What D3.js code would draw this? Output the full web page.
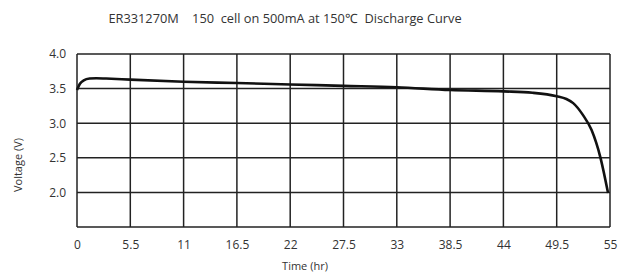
<!DOCTYPE html>
<html><head><meta charset="utf-8">
<script src="https://cdn.jsdelivr.net/npm/d3@7"></script>
<style>body{margin:0;background:#fff}svg text{font-family:"Open Sans",sans-serif;fill:#333}</style>
</head><body><svg id="c" width="619" height="275"></svg>
<script>
const timeHr = [0, 0.3, 0.7, 1.3, 2, 3, 5.5, 11, 16.5, 22, 27.5, 33, 38.5, 44, 47, 49.5, 50.5, 51.2, 52.2, 53.1, 54, 54.8];
const voltage = [3.48, 3.57, 3.62, 3.645, 3.65, 3.645, 3.63, 3.60, 3.58, 3.56, 3.54, 3.52, 3.48, 3.46, 3.44, 3.39, 3.35, 3.29, 3.12, 2.90, 2.51, 1.99];
const xTicks = [0, 5.5, 11, 16.5, 22, 27.5, 33, 38.5, 44, 49.5, 55];
const yTicks = [2.0, 2.5, 3.0, 3.5, 4.0];
const yGrid = [1.5, 2.0, 2.5, 3.0, 3.5, 4.0];

const svg = d3.select("#c");
const L = 77, R = 610, T = 54, B = 227;
const x = d3.scaleLinear().domain([0, 55]).range([L, R]);
const y = d3.scaleLinear().domain([1.5, 4.0]).range([B, T]);

const g = svg.append("g");
g.selectAll("line.v").data(xTicks).join("line")
  .attr("x1", d => x(d)).attr("x2", d => x(d)).attr("y1", T).attr("y2", B)
  .attr("stroke", "#222").attr("stroke-width", 1.5);
g.selectAll("line.h").data(yGrid).join("line")
  .attr("x1", L).attr("x2", R).attr("y1", d => y(d)).attr("y2", d => y(d))
  .attr("stroke", "#222").attr("stroke-width", 1.5);

const xAxis = svg.append("g").attr("transform", `translate(0,${B})`)
  .call(d3.axisBottom(x).tickValues(xTicks).tickSize(0).tickPadding(13).tickFormat(d => String(d)));
xAxis.select(".domain").remove();
xAxis.selectAll("text").attr("font-size", 12).style("fill", "#333");

const yAxis = svg.append("g").attr("transform", `translate(${L},0)`)
  .call(d3.axisLeft(y).tickValues(yTicks).tickSize(0).tickPadding(11).tickFormat(d3.format(".1f")));
yAxis.select(".domain").remove();
yAxis.selectAll("text").attr("font-size", 12).style("fill", "#333");

const pts = timeHr.map((t, i) => [t, voltage[i]]);
svg.append("path").datum(pts)
  .attr("d", d3.line().x(d => x(d[0])).y(d => y(d[1])).curve(d3.curveMonotoneX))
  .attr("fill", "none").attr("stroke", "#111").attr("stroke-width", 2.6);

svg.append("text").attr("x", 285).attr("y", 23).attr("text-anchor", "middle")
  .attr("font-size", 12.8).attr("xml:space", "preserve")
  .text("ER331270M    150  cell on 500mA at 150℃  Discharge Curve");
svg.append("text").attr("x", 305).attr("y", 270).attr("text-anchor", "middle")
  .attr("font-size", 11).text("Time (hr)");
svg.append("text").attr("transform", "translate(22,165) rotate(-90)").attr("text-anchor", "middle")
  .attr("font-size", 11).text("Voltage (V)");
</script></body></html>
